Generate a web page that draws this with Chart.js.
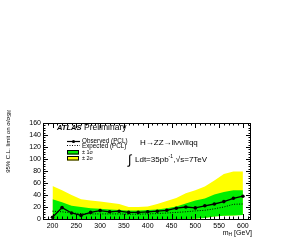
<!DOCTYPE html>
<html>
<head>
<meta charset="utf-8">
<script src="https://cdn.jsdelivr.net/npm/chart.js@4.4.1/dist/chart.umd.min.js"></script>
<style>
  html, body { margin: 0; padding: 0; background: #fff; }
  canvas { display: block; }
</style>
</head>
<body>
<canvas id="limitChart" width="286" height="240"></canvas>
<script>
// Higgs mass points (GeV)
var masses = [200, 220, 240, 260, 280, 300, 320, 340, 360, 380, 400,
              420, 440, 460, 480, 500, 520, 540, 560, 580, 600];
var observed = [3, 19, 10, 6, 11, 14, 12, 13, 11, 11, 12,
                13, 14.5, 18, 20, 18.5, 22, 25, 29, 34.5, 38];
var expected = [13, 12, 10, 9, 8.5, 8.5, 8.5, 8.5, 8, 8, 8.5,
                9, 10, 11, 12, 13.5, 14.5, 17, 20, 24.5, 25];
var oneSigmaHi = [33, 28, 22, 20, 18, 17, 16, 15, 14, 14, 15,
                  16, 18, 21, 26, 31, 34, 41, 45, 48, 48];
var oneSigmaLo = [0, 0, 0, 0, 0, 0, 0, 0, 0, 0, 0,
                  0, 0, 0, 0, 0.5, 1.5, 4, 5.5, 6, 6.5];
var twoSigmaHi = [55, 48, 40, 33, 31, 29, 27, 25, 20, 20, 21,
                  25, 30, 35, 43, 48, 54, 64, 75, 79, 79];
var twoSigmaLo = [0, 0, 0, 0, 0, 0, 0, 0, 0, 0, 0,
                  0, 0, 0, 0, 0.5, 1.5, 4, 5.5, 6, 6.5];
var xTicks = [200, 250, 300, 350, 400, 450, 500, 550, 600];
var yTicks = [0, 20, 40, 60, 80, 100, 120, 140, 160];

var FONT = '"Liberation Sans", Arial, sans-serif';

function pts(arr) {
    return masses.map(function (m, i) { return {x: m, y: arr[i]}; });
}

// frame, inside ticks (ROOT style) and the text blocks
var atlasDecor = {
    id: 'atlasDecor',
    afterDraw: function (chart) {
        var ctx = chart.ctx, a = chart.chartArea;
        var xs = chart.scales.x, ys = chart.scales.y;
        ctx.save();
        ctx.strokeStyle = '#000';
        ctx.lineWidth = 1;
        ctx.strokeRect(Math.round(a.left) + 0.5, Math.round(a.top) + 0.5,
            Math.round(a.right - a.left) - 1, Math.round(a.bottom - a.top));

        ctx.beginPath();
        for (var v = 0; v <= 160; v += 4) {
            var py = Math.round(ys.getPixelForValue(v)) + 0.5;
            var len = (v % 20 === 0) ? 5 : 2.5;
            ctx.moveTo(a.left, py); ctx.lineTo(a.left + len, py);
            ctx.moveTo(a.right, py); ctx.lineTo(a.right - len, py);
        }
        for (var m = 180; m <= 610; m += 10) {
            var px = Math.round(xs.getPixelForValue(m)) + 0.5;
            var l2 = (m % 50 === 0) ? 5 : 2.5;
            ctx.moveTo(px, a.bottom); ctx.lineTo(px, a.bottom - l2);
            ctx.moveTo(px, a.top); ctx.lineTo(px, a.top + l2);
        }
        ctx.stroke();

        ctx.fillStyle = '#000';
        ctx.textBaseline = 'middle';

        // ATLAS Preliminary
        ctx.font = 'italic bold 7.5px ' + FONT;
        ctx.fillText('ATLAS', 57, 128);
        ctx.font = '8.5px ' + FONT;
        ctx.fillText('Preliminary', 84, 128);

        // legend
        ctx.lineWidth = 1.2;
        ctx.beginPath(); ctx.moveTo(67, 141.5); ctx.lineTo(80, 141.5); ctx.stroke();
        ctx.beginPath(); ctx.arc(73.5, 141.5, 1.6, 0, Math.PI * 2); ctx.fill();
        ctx.lineWidth = 1;
        ctx.setLineDash([1, 1.5]);
        ctx.beginPath(); ctx.moveTo(67, 145.5); ctx.lineTo(80, 145.5); ctx.stroke();
        ctx.setLineDash([]);
        ctx.fillStyle = '#00ee00';
        ctx.fillRect(67, 150, 12, 4.5);
        ctx.strokeRect(67.5, 150.5, 11, 3.5);
        ctx.fillStyle = '#ffff00';
        ctx.fillRect(67, 156, 12, 4.5);
        ctx.strokeRect(67.5, 156.5, 11, 3.5);
        ctx.fillStyle = '#000';
        ctx.font = '6.3px ' + FONT;
        ctx.fillText('Observed (PCL)', 82, 141.5);
        ctx.fillText('Expected (PCL)', 82, 145.8);
        ctx.font = '5.5px ' + FONT;
        ctx.fillText('\u00b1 1\u03c3', 82, 152.3);
        ctx.fillText('\u00b1 2\u03c3', 82, 158.3);

        // process and luminosity
        ctx.font = '8px ' + FONT;
        ctx.fillText('H\u2192ZZ\u2192ll\u03bd\u03bd/llqq', 140, 142.5);
        ctx.font = '13px ' + FONT;
        ctx.fillText('\u222b', 128, 160.5);
        ctx.font = '8px ' + FONT;
        ctx.fillText('Ldt=35pb', 135, 160);
        var w = ctx.measureText('Ldt=35pb').width;
        ctx.font = '5px ' + FONT;
        ctx.fillText('-1', 135 + w, 157);
        ctx.font = '8px ' + FONT;
        ctx.fillText(',\u221as=7TeV', 135 + w + 5, 160);

        // axis titles
        ctx.font = '7px ' + FONT;
        ctx.textAlign = 'right';
        var tw = ctx.measureText(' [GeV]').width;
        ctx.fillText(' [GeV]', 252, 233);
        ctx.font = '5px ' + FONT;
        ctx.fillText('H', 252 - tw, 235);
        var hw = ctx.measureText('H').width;
        ctx.font = '7px ' + FONT;
        ctx.fillText('m', 252 - tw - hw, 233);

        ctx.translate(8, 110);
        ctx.rotate(-Math.PI / 2);
        ctx.textAlign = 'right';
        ctx.font = '4.5px ' + FONT;
        ctx.fillText('SM', 0, 2);
        var sw = ctx.measureText('SM').width;
        ctx.font = '6px ' + FONT;
        ctx.fillText('95% C.L. limit on \u03c3/\u03c3', -sw, 0);
        ctx.restore();
    }
};

var ctx = document.getElementById('limitChart').getContext('2d');
var limitChart = new Chart(ctx, {
    type: 'line',
    data: {
        datasets: [
            {
                label: 'Observed (PCL)',
                data: pts(observed),
                borderColor: '#000',
                backgroundColor: '#000',
                borderWidth: 1.3,
                pointRadius: 1.8,
                pointBorderWidth: 0,
                fill: false
            },
            {
                label: 'Expected (PCL)',
                data: pts(expected),
                borderColor: '#000',
                borderWidth: 1,
                borderDash: [1, 1.5],
                pointRadius: 0,
                fill: false
            },
            {
                label: '\u00b1 1\u03c3',
                data: pts(oneSigmaHi),
                borderWidth: 0,
                borderColor: 'rgba(0,0,0,0)',
                backgroundColor: '#00ee00',
                pointRadius: 0,
                fill: '+1'
            },
            {
                label: '1\u03c3 low',
                data: pts(oneSigmaLo),
                borderWidth: 0,
                borderColor: 'rgba(0,0,0,0)',
                pointRadius: 0,
                fill: false
            },
            {
                label: '\u00b1 2\u03c3',
                data: pts(twoSigmaHi),
                borderWidth: 0,
                borderColor: 'rgba(0,0,0,0)',
                backgroundColor: '#ffff00',
                pointRadius: 0,
                fill: '+1'
            },
            {
                label: '2\u03c3 low',
                data: pts(twoSigmaLo),
                borderWidth: 0,
                borderColor: 'rgba(0,0,0,0)',
                pointRadius: 0,
                fill: false
            }
        ]
    },
    options: {
        responsive: false,
        animation: false,
        devicePixelRatio: 1,
        layout: { padding: { left: 0, top: 123, right: 35, bottom: 0 } },
        plugins: {
            legend: { display: false },
            tooltip: { enabled: false }
        },
        elements: { line: { tension: 0 } },
        scales: {
            x: {
                type: 'linear',
                min: 180,
                max: 617,
                afterFit: function (s) { s.height = 21; },
                afterBuildTicks: function (s) {
                    s.ticks = xTicks.map(function (v) { return {value: v}; });
                },
                grid: { display: false, drawTicks: false },
                border: { display: false },
                ticks: {
                    color: '#000',
                    font: { family: FONT, size: 7 },
                    padding: 3,
                    maxRotation: 0,
                    autoSkip: false
                }
            },
            y: {
                min: 0,
                max: 160,
                afterFit: function (s) { s.width = 43; },
                afterBuildTicks: function (s) {
                    s.ticks = yTicks.map(function (v) { return {value: v}; });
                },
                grid: { display: false, drawTicks: false },
                border: { display: false },
                ticks: {
                    color: '#000',
                    font: { family: FONT, size: 7 },
                    padding: 2,
                    autoSkip: false
                }
            }
        }
    },
    plugins: [atlasDecor]
});
</script>
</body>
</html>
